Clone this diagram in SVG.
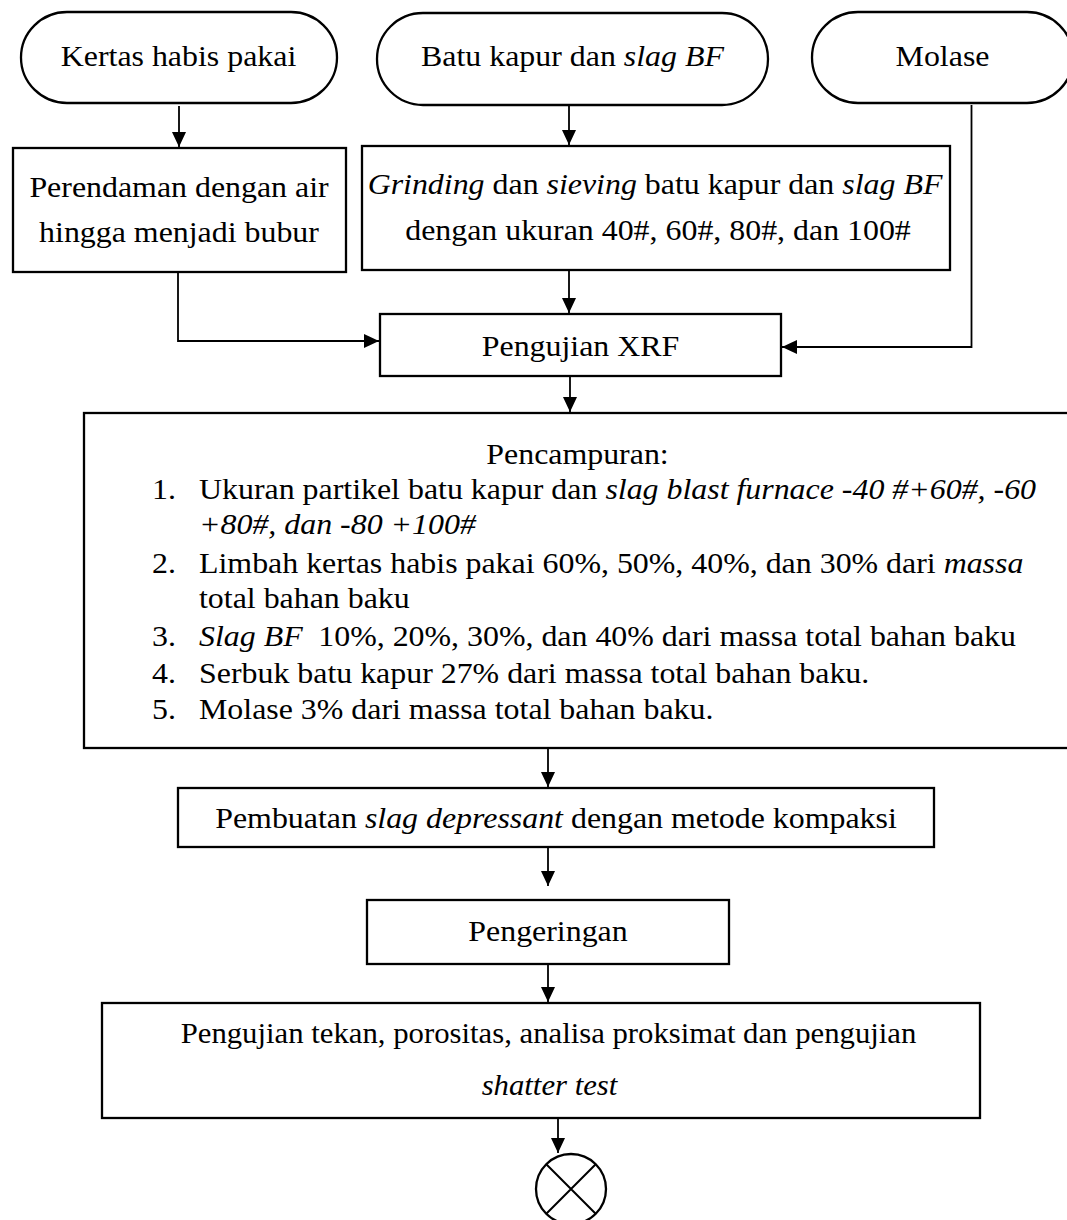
<svg xmlns="http://www.w3.org/2000/svg" width="1067" height="1220" viewBox="0 0 1067 1220">
<style>
.t{font-family:"Liberation Serif","Times New Roman",serif;font-size:29px;fill:#000}
.c{text-anchor:middle}
.i{font-style:italic}
.box{fill:#fff;stroke:#000;stroke-width:2.3}
.ln{fill:none;stroke:#000;stroke-width:1.8}
</style>
<defs>
<marker id="ah" markerUnits="userSpaceOnUse" markerWidth="16" markerHeight="15" refX="15" refY="7" orient="auto" viewBox="0 0 16 15">
<path d="M0,0 L15,7 L0,14 z" fill="#000"/>
</marker>
</defs>
<rect width="1067" height="1220" fill="#fff"/>

<g id="connectors">
<path class="ln" d="M179,106 V147" marker-end="url(#ah)"/>
<path class="ln" d="M569,106 V145" marker-end="url(#ah)"/>
<path class="ln" d="M178,272 V341 H379" marker-end="url(#ah)"/>
<path class="ln" d="M569,270 V313" marker-end="url(#ah)"/>
<path class="ln" d="M971.5,105 V347 H782" marker-end="url(#ah)"/>
<path class="ln" d="M570,376 V412" marker-end="url(#ah)"/>
<path class="ln" d="M548,748 V787" marker-end="url(#ah)"/>
<path class="ln" d="M548,847 V886" marker-end="url(#ah)"/>
<path class="ln" d="M548,964 V1002" marker-end="url(#ah)"/>
<path class="ln" d="M558,1118 V1153" marker-end="url(#ah)"/>
</g>

<g id="kertas">
<rect class="box" x="21" y="12" width="316" height="91" rx="46" ry="45.5"/>
<text class="t c" transform="translate(178.5 66) scale(1.1 1)">Kertas habis pakai</text>
</g>

<g id="batu">
<rect class="box" x="377" y="13" width="391" height="92" rx="46" ry="46"/>
<text class="t c" transform="translate(572.5 66) scale(1.1 1)">Batu kapur dan <tspan class="i">slag BF</tspan></text>
</g>

<g id="molase">
<rect class="box" x="812" y="12" width="261" height="91" rx="46" ry="45.5"/>
<text class="t c" transform="translate(942.5 66) scale(1.1 1)">Molase</text>
</g>

<g id="perendaman">
<rect class="box" x="13" y="148" width="333" height="124"/>
<text class="t c" transform="translate(179 197) scale(1.1 1)">Perendaman dengan air</text>
<text class="t c" transform="translate(179 242) scale(1.1 1)">hingga menjadi bubur</text>
</g>

<g id="grinding">
<rect class="box" x="362" y="146" width="588" height="124"/>
<text class="t c" transform="translate(655 194) scale(1.1 1)"><tspan class="i">Grinding</tspan> dan <tspan class="i">sieving</tspan> batu kapur dan <tspan class="i">slag BF</tspan></text>
<text class="t c" transform="translate(658 240) scale(1.1 1)">dengan ukuran 40#, 60#, 80#, dan 100#</text>
</g>

<g id="xrf">
<rect class="box" x="380" y="314" width="401" height="62"/>
<text class="t c" transform="translate(580.5 356) scale(1.1 1)">Pengujian XRF</text>
</g>

<g id="pencampuran">
<rect class="box" x="84" y="413" width="990" height="335"/>
<text class="t c" transform="translate(577.5 464) scale(1.1 1)">Pencampuran:</text>
<text class="t" transform="translate(152 499) scale(1.1 1)">1.</text>
<text class="t" transform="translate(199 499) scale(1.1 1)">Ukuran partikel batu kapur dan <tspan class="i">slag blast furnace -40 #+60#, -60</tspan></text>
<text class="t i" transform="translate(199 534) scale(1.1 1)">+80#, dan -80 +100#</text>
<text class="t" transform="translate(152 573) scale(1.1 1)">2.</text>
<text class="t" transform="translate(199 573) scale(1.1 1)">Limbah kertas habis pakai 60%, 50%, 40%, dan 30% dari <tspan class="i">massa</tspan></text>
<text class="t" transform="translate(199 608) scale(1.1 1)">total bahan baku</text>
<text class="t" transform="translate(152 646) scale(1.1 1)">3.</text>
<text class="t" transform="translate(199 646) scale(1.1 1)"><tspan class="i">Slag BF</tspan><tspan dx="7"> 10%, 20%, 30%, dan 40% dari massa total bahan baku</tspan></text>
<text class="t" transform="translate(152 683) scale(1.1 1)">4.</text>
<text class="t" transform="translate(199 683) scale(1.1 1)">Serbuk batu kapur 27% dari massa total bahan baku.</text>
<text class="t" transform="translate(152 719) scale(1.1 1)">5.</text>
<text class="t" transform="translate(199 719) scale(1.1 1)">Molase 3% dari massa total bahan baku.</text>
</g>

<g id="pembuatan">
<rect class="box" x="178" y="788" width="756" height="59"/>
<text class="t c" transform="translate(556 828) scale(1.1 1)">Pembuatan <tspan class="i">slag depressant</tspan> dengan metode kompaksi</text>
</g>

<g id="pengeringan">
<rect class="box" x="367" y="900" width="362" height="64"/>
<text class="t c" transform="translate(548 941) scale(1.1 1)">Pengeringan</text>
</g>

<g id="pengujian">
<rect class="box" x="102" y="1003" width="878" height="115"/>
<text class="t c" transform="translate(548.5 1043) scale(1.06 1)">Pengujian tekan, porositas, analisa proksimat dan pengujian</text>
<text class="t c i" transform="translate(549.5 1095) scale(1.06 1)">shatter test</text>
</g>

<g id="end">
<circle class="box" cx="571" cy="1189" r="35"/>
<path class="ln" d="M546.3,1164.3 L595.7,1213.7 M595.7,1164.3 L546.3,1213.7" style="stroke-width:2"/>
</g>
</svg>
